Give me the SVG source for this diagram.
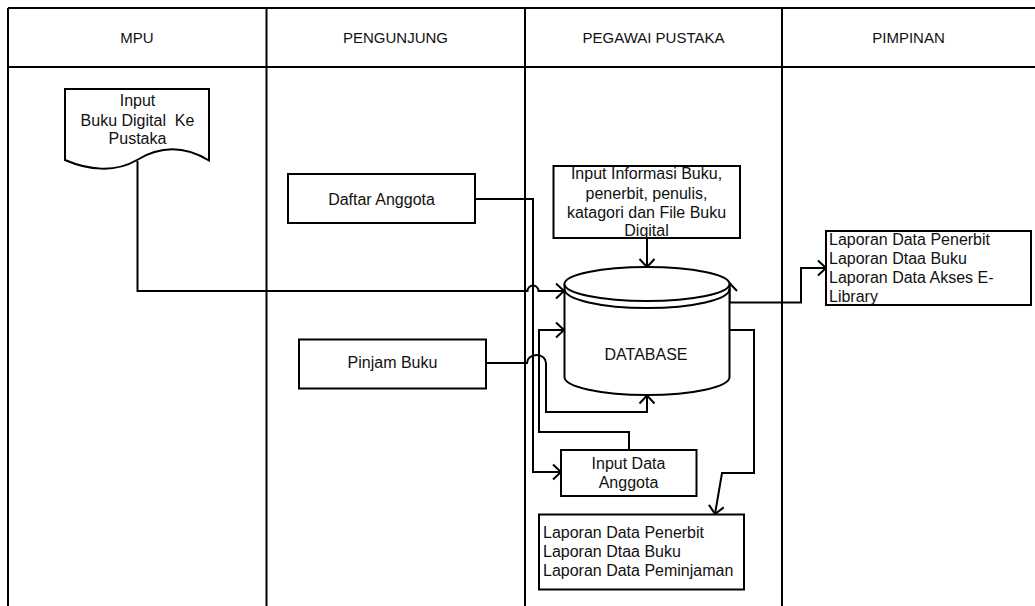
<svg xmlns="http://www.w3.org/2000/svg" width="1035" height="606" viewBox="0 0 1035 606">
<defs>
<style>
.ln{fill:none;stroke:#000;stroke-width:2}
.bx{fill:#fff;stroke:#000;stroke-width:2}
.t{font-family:"Liberation Sans",Arial,sans-serif;font-size:16px;fill:#111}
.h{font-family:"Liberation Sans",Arial,sans-serif;font-size:15px;fill:#111;text-anchor:middle}
.c{text-anchor:middle}
.cn{fill:none;stroke:#000;stroke-width:2}
</style>
<marker id="ar" markerUnits="userSpaceOnUse" markerWidth="20" markerHeight="20" refX="10" refY="10" orient="auto" overflow="visible">
<path d="M2,2.5 L10,10 L2,17.5" fill="none" stroke="#000" stroke-width="2"/>
</marker>
</defs>
<rect width="1035" height="606" fill="#fff"/>
<g id="lanes">
<path class="ln" d="M8,8 H1040 M8,67 H1040 M8,8 V606 M266.5,8 V606 M525,8 V606 M782,8 V606"/>
<text class="h" x="137" y="43">MPU</text>
<text class="h" x="395.5" y="43">PENGUNJUNG</text>
<text class="h" x="653.5" y="43">PEGAWAI PUSTAKA</text>
<text class="h" x="908.5" y="43">PIMPINAN</text>
</g>
<g id="connectors">
<path class="cn" d="M137.5,161 V291 H527.5 A5.5,5.5 0 0 1 538.5,291 H564" marker-end="url(#ar)"/>
<path class="cn" d="M475,199 H533 V472 H561" marker-end="url(#ar)"/>
<path class="cn" d="M486,363 H527 A9.5,8 0 0 1 546,363 V412 H647 V395.5" marker-end="url(#ar)"/>
<path class="cn" d="M629,450 V432 H539 V330 H564" marker-end="url(#ar)"/>
<path class="cn" d="M647,238 V267" marker-end="url(#ar)"/>
<path class="cn" d="M729.5,330 H754 V473 H722 L715,514" marker-end="url(#ar)"/>
<path class="cn" d="M729.5,302.5 H801 V268 H826" marker-end="url(#ar)"/>
<path class="cn" d="M729.5,302.5 V283" marker-end="url(#ar)"/>
</g>
<g id="input-buku-digital">
<path class="bx" d="M65,89 H209 V160.5 C185,146 160,146 137,160 C115,173 88,170 65,160 Z"/>
<text class="t c" x="137.5" y="106">Input</text>
<text class="t c" x="137.5" y="125.5" xml:space="preserve">Buku Digital  Ke</text>
<text class="t c" x="137.5" y="144">Pustaka</text>
</g>
<g id="daftar-anggota">
<rect class="bx" x="288" y="174" width="187" height="49"/>
<text class="t c" x="381.5" y="204.5">Daftar Anggota</text>
</g>
<g id="pinjam-buku">
<rect class="bx" x="299" y="339.5" width="187" height="49"/>
<text class="t c" x="392.5" y="368">Pinjam Buku</text>
</g>
<g id="input-informasi-buku">
<rect class="bx" x="553.5" y="166" width="186.5" height="72"/>
<text class="t c" x="646.5" y="179">Input Informasi Buku,</text>
<text class="t c" x="646.5" y="198.5">penerbit, penulis,</text>
<text class="t c" x="646.5" y="217.5">katagori dan File Buku</text>
<text class="t c" x="646.5" y="236">Digital</text>
</g>
<g id="database">
<path class="bx" d="M564.5,284 V377 A82.5,18 0 0 0 729.5,377 V284 Z"/>
<ellipse class="bx" cx="647" cy="284" rx="82.5" ry="17"/>
<path class="ln" d="M564.5,289 A82.5,19 0 0 0 729.5,289"/>
<text class="t c" x="646" y="360">DATABASE</text>
</g>
<g id="input-data-anggota">
<rect class="bx" x="561" y="450" width="135.5" height="46"/>
<text class="t c" x="628.5" y="468.5">Input Data</text>
<text class="t c" x="628.5" y="487.5">Anggota</text>
</g>
<g id="laporan-pegawai">
<rect class="bx" x="539" y="514.5" width="205" height="75"/>
<text class="t" x="543" y="537.5">Laporan Data Penerbit</text>
<text class="t" x="543" y="556.5">Laporan Dtaa Buku</text>
<text class="t" x="543" y="575.5">Laporan Data Peminjaman</text>
</g>
<g id="laporan-pimpinan">
<rect class="bx" x="826" y="231" width="205" height="74"/>
<text class="t" x="829" y="245">Laporan Data Penerbit</text>
<text class="t" x="829" y="264">Laporan Dtaa Buku</text>
<text class="t" x="829" y="283">Laporan Data Akses E-</text>
<text class="t" x="829" y="302">Library</text>
</g>
</svg>
